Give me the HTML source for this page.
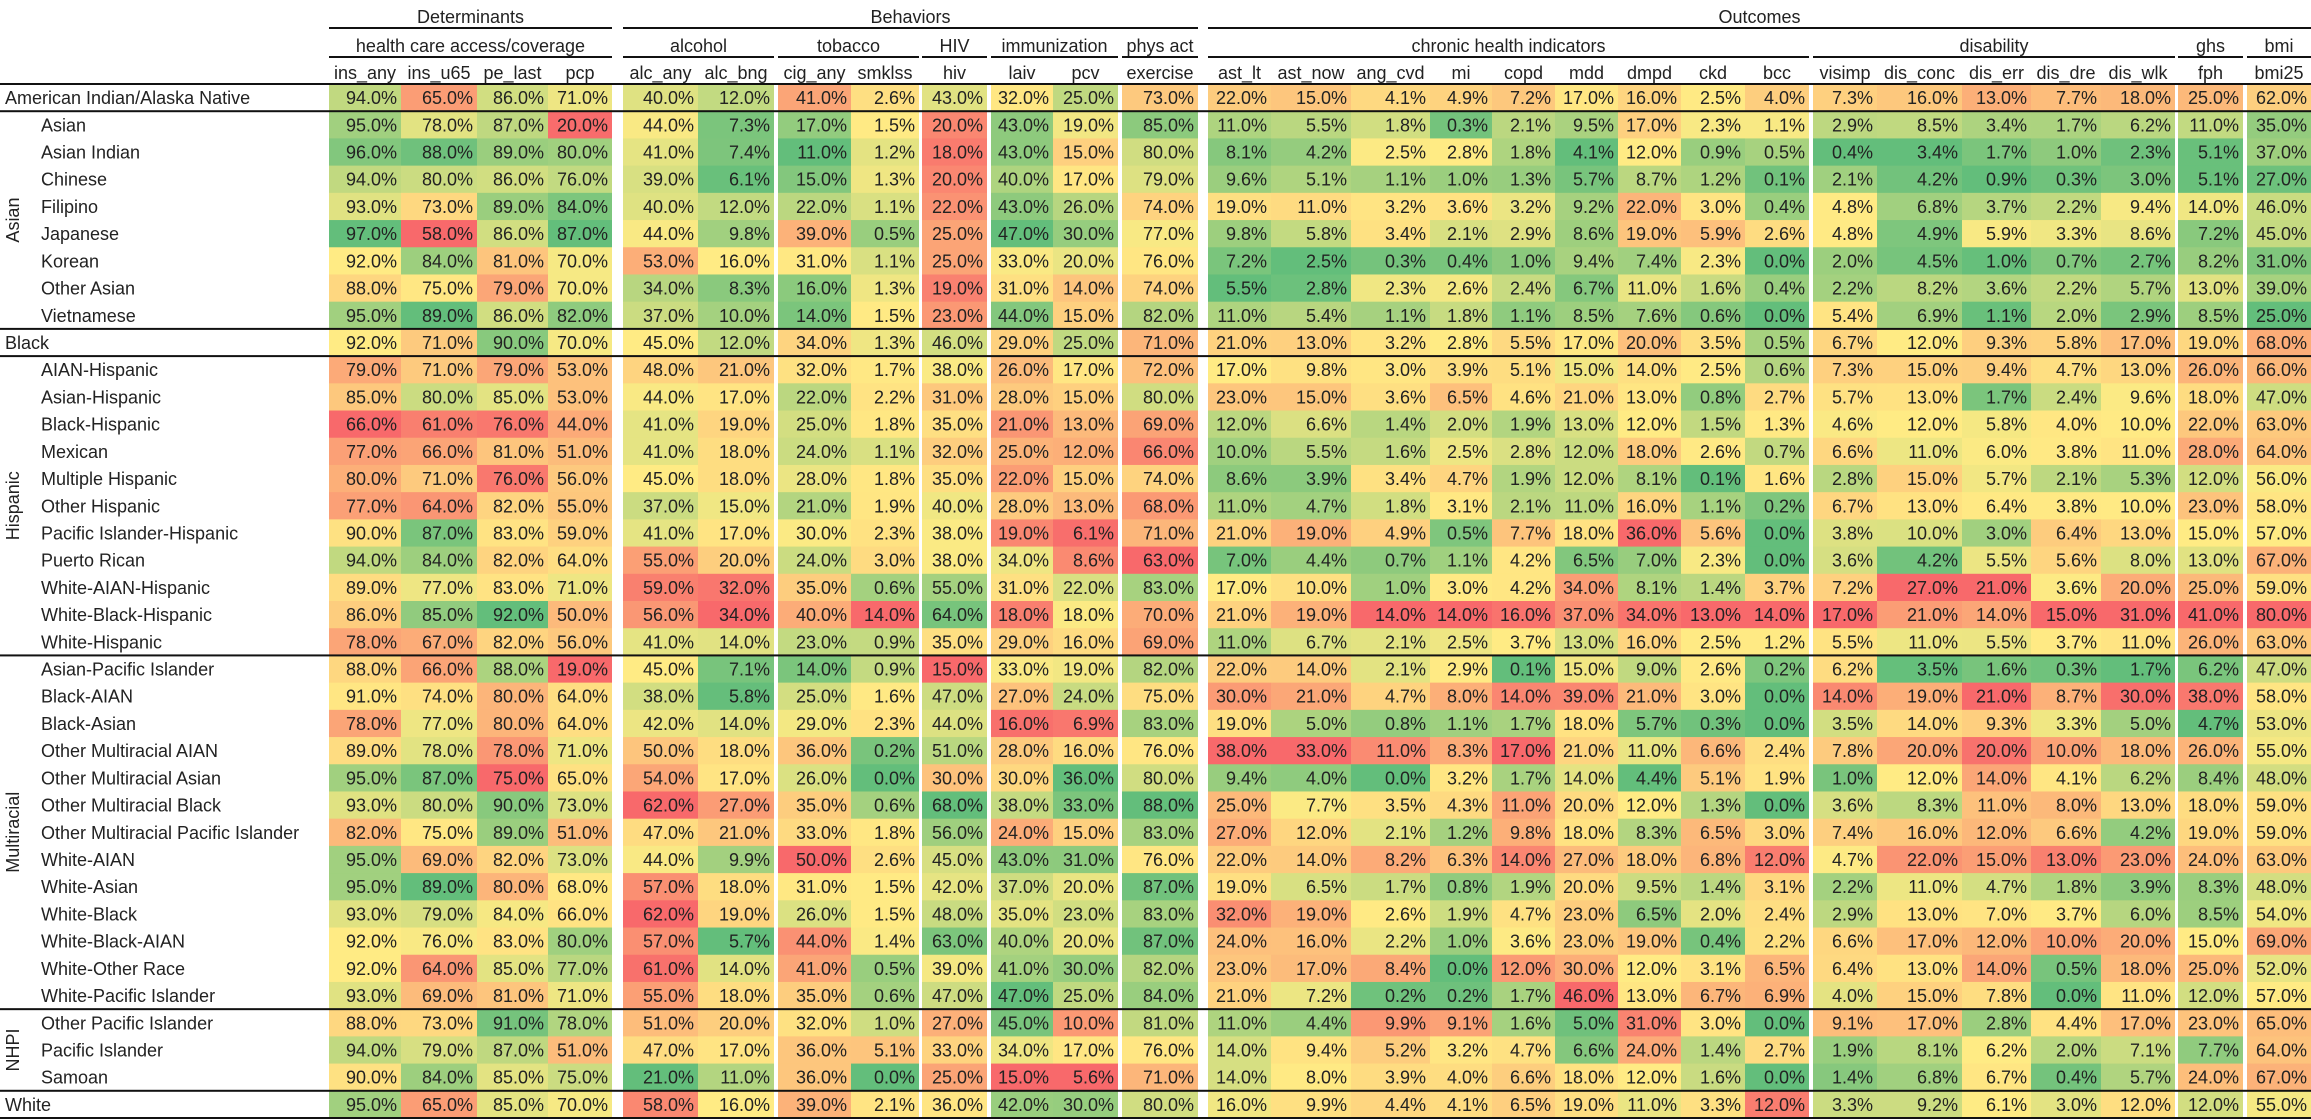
<!DOCTYPE html>
<html><head><meta charset="utf-8"><style>
html,body{margin:0;padding:0;background:#fff}
svg{display:block}
text{font-family:"Liberation Sans",sans-serif;font-size:18px;fill:#222}
</style></head><body>
<svg id="chart" width="2311" height="1120" viewBox="0 0 2311 1120" xmlns="http://www.w3.org/2000/svg"></svg>
<script>
const columns=["ins_any","ins_u65","pe_last","pcp","alc_any","alc_bng","cig_any","smklss","hiv","laiv","pcv","exercise","ast_lt","ast_now","ang_cvd","mi","copd","mdd","dmpd","ckd","bcc","visimp","dis_conc","dis_err","dis_dre","dis_wlk","fph","bmi25"];
const goodHigh=[1,1,1,1,0,0,0,0,1,1,1,1,0,0,0,0,0,0,0,0,0,0,0,0,0,0,0,0];
const rowNames=["American Indian/Alaska Native","Asian","Asian Indian","Chinese","Filipino","Japanese","Korean","Other Asian","Vietnamese","Black","AIAN-Hispanic","Asian-Hispanic","Black-Hispanic","Mexican","Multiple Hispanic","Other Hispanic","Pacific Islander-Hispanic","Puerto Rican","White-AIAN-Hispanic","White-Black-Hispanic","White-Hispanic","Asian-Pacific Islander","Black-AIAN","Black-Asian","Other Multiracial AIAN","Other Multiracial Asian","Other Multiracial Black","Other Multiracial Pacific Islander","White-AIAN","White-Asian","White-Black","White-Black-AIAN","White-Other Race","White-Pacific Islander","Other Pacific Islander","Pacific Islander","Samoan","White"];
const rowGroups=["","Asian","Asian","Asian","Asian","Asian","Asian","Asian","Asian","","Hispanic","Hispanic","Hispanic","Hispanic","Hispanic","Hispanic","Hispanic","Hispanic","Hispanic","Hispanic","Hispanic","Multiracial","Multiracial","Multiracial","Multiracial","Multiracial","Multiracial","Multiracial","Multiracial","Multiracial","Multiracial","Multiracial","Multiracial","Multiracial","NHPI","NHPI","NHPI",""];
const values=[
[94,65,86,71,40,12,41,2.6,43,32,25,73,22,15,4.1,4.9,7.2,17,16,2.5,4.0,7.3,16,13,7.7,18,25,62],
[95,78,87,20,44,7.3,17,1.5,20,43,19,85,11,5.5,1.8,0.3,2.1,9.5,17,2.3,1.1,2.9,8.5,3.4,1.7,6.2,11,35],
[96,88,89,80,41,7.4,11,1.2,18,43,15,80,8.1,4.2,2.5,2.8,1.8,4.1,12,0.9,0.5,0.4,3.4,1.7,1.0,2.3,5.1,37],
[94,80,86,76,39,6.1,15,1.3,20,40,17,79,9.6,5.1,1.1,1.0,1.3,5.7,8.7,1.2,0.1,2.1,4.2,0.9,0.3,3.0,5.1,27],
[93,73,89,84,40,12,22,1.1,22,43,26,74,19,11,3.2,3.6,3.2,9.2,22,3.0,0.4,4.8,6.8,3.7,2.2,9.4,14,46],
[97,58,86,87,44,9.8,39,0.5,25,47,30,77,9.8,5.8,3.4,2.1,2.9,8.6,19,5.9,2.6,4.8,4.9,5.9,3.3,8.6,7.2,45],
[92,84,81,70,53,16,31,1.1,25,33,20,76,7.2,2.5,0.3,0.4,1.0,9.4,7.4,2.3,0.0,2.0,4.5,1.0,0.7,2.7,8.2,31],
[88,75,79,70,34,8.3,16,1.3,19,31,14,74,5.5,2.8,2.3,2.6,2.4,6.7,11,1.6,0.4,2.2,8.2,3.6,2.2,5.7,13,39],
[95,89,86,82,37,10,14,1.5,23,44,15,82,11,5.4,1.1,1.8,1.1,8.5,7.6,0.6,0.0,5.4,6.9,1.1,2.0,2.9,8.5,25],
[92,71,90,70,45,12,34,1.3,46,29,25,71,21,13,3.2,2.8,5.5,17,20,3.5,0.5,6.7,12,9.3,5.8,17,19,68],
[79,71,79,53,48,21,32,1.7,38,26,17,72,17,9.8,3.0,3.9,5.1,15,14,2.5,0.6,7.3,15,9.4,4.7,13,26,66],
[85,80,85,53,44,17,22,2.2,31,28,15,80,23,15,3.6,6.5,4.6,21,13,0.8,2.7,5.7,13,1.7,2.4,9.6,18,47],
[66,61,76,44,41,19,25,1.8,35,21,13,69,12,6.6,1.4,2.0,1.9,13,12,1.5,1.3,4.6,12,5.8,4.0,10,22,63],
[77,66,81,51,41,18,24,1.1,32,25,12,66,10,5.5,1.6,2.5,2.8,12,18,2.6,0.7,6.6,11,6.0,3.8,11,28,64],
[80,71,76,56,45,18,28,1.8,35,22,15,74,8.6,3.9,3.4,4.7,1.9,12,8.1,0.1,1.6,2.8,15,5.7,2.1,5.3,12,56],
[77,64,82,55,37,15,21,1.9,40,28,13,68,11,4.7,1.8,3.1,2.1,11,16,1.1,0.2,6.7,13,6.4,3.8,10,23,58],
[90,87,83,59,41,17,30,2.3,38,19,6.1,71,21,19,4.9,0.5,7.7,18,36,5.6,0.0,3.8,10,3.0,6.4,13,15,57],
[94,84,82,64,55,20,24,3.0,38,34,8.6,63,7.0,4.4,0.7,1.1,4.2,6.5,7.0,2.3,0.0,3.6,4.2,5.5,5.6,8.0,13,67],
[89,77,83,71,59,32,35,0.6,55,31,22,83,17,10,1.0,3.0,4.2,34,8.1,1.4,3.7,7.2,27,21,3.6,20,25,59],
[86,85,92,50,56,34,40,14,64,18,18,70,21,19,14,14,16,37,34,13,14,17,21,14,15,31,41,80],
[78,67,82,56,41,14,23,0.9,35,29,16,69,11,6.7,2.1,2.5,3.7,13,16,2.5,1.2,5.5,11,5.5,3.7,11,26,63],
[88,66,88,19,45,7.1,14,0.9,15,33,19,82,22,14,2.1,2.9,0.1,15,9.0,2.6,0.2,6.2,3.5,1.6,0.3,1.7,6.2,47],
[91,74,80,64,38,5.8,25,1.6,47,27,24,75,30,21,4.7,8.0,14,39,21,3.0,0.0,14,19,21,8.7,30,38,58],
[78,77,80,64,42,14,29,2.3,44,16,6.9,83,19,5.0,0.8,1.1,1.7,18,5.7,0.3,0.0,3.5,14,9.3,3.3,5.0,4.7,53],
[89,78,78,71,50,18,36,0.2,51,28,16,76,38,33,11,8.3,17,21,11,6.6,2.4,7.8,20,20,10,18,26,55],
[95,87,75,65,54,17,26,0.0,30,30,36,80,9.4,4.0,0.0,3.2,1.7,14,4.4,5.1,1.9,1.0,12,14,4.1,6.2,8.4,48],
[93,80,90,73,62,27,35,0.6,68,38,33,88,25,7.7,3.5,4.3,11,20,12,1.3,0.0,3.6,8.3,11,8.0,13,18,59],
[82,75,89,51,47,21,33,1.8,56,24,15,83,27,12,2.1,1.2,9.8,18,8.3,6.5,3.0,7.4,16,12,6.6,4.2,19,59],
[95,69,82,73,44,9.9,50,2.6,45,43,31,76,22,14,8.2,6.3,14,27,18,6.8,12,4.7,22,15,13,23,24,63],
[95,89,80,68,57,18,31,1.5,42,37,20,87,19,6.5,1.7,0.8,1.9,20,9.5,1.4,3.1,2.2,11,4.7,1.8,3.9,8.3,48],
[93,79,84,66,62,19,26,1.5,48,35,23,83,32,19,2.6,1.9,4.7,23,6.5,2.0,2.4,2.9,13,7.0,3.7,6.0,8.5,54],
[92,76,83,80,57,5.7,44,1.4,63,40,20,87,24,16,2.2,1.0,3.6,23,19,0.4,2.2,6.6,17,12,10,20,15,69],
[92,64,85,77,61,14,41,0.5,39,41,30,82,23,17,8.4,0.0,12,30,12,3.1,6.5,6.4,13,14,0.5,18,25,52],
[93,69,81,71,55,18,35,0.6,47,47,25,84,21,7.2,0.2,0.2,1.7,46,13,6.7,6.9,4.0,15,7.8,0.0,11,12,57],
[88,73,91,78,51,20,32,1.0,27,45,10,81,11,4.4,9.9,9.1,1.6,5.0,31,3.0,0.0,9.1,17,2.8,4.4,17,23,65],
[94,79,87,51,47,17,36,5.1,33,34,17,76,14,9.4,5.2,3.2,4.7,6.6,24,1.4,2.7,1.9,8.1,6.2,2.0,7.1,7.7,64],
[90,84,85,75,21,11,36,0.0,25,15,5.6,71,14,8.0,3.9,4.0,6.6,18,12,1.6,0.0,1.4,6.8,6.7,0.4,5.7,24,67],
[95,65,85,70,58,16,39,2.1,36,42,30,80,16,9.9,4.4,4.1,6.5,19,11,3.3,12,3.3,9.2,6.1,3.0,12,12,55]
];
const level1=[["Determinants",0,3],["Behaviors",4,11],["Outcomes",12,27]];
const level2=[["health care access/coverage",0,3],["alcohol",4,5],["tobacco",6,7],["HIV",8,8],["immunization",9,10],["phys act",11,11],["chronic health indicators",12,20],["disability",21,25],["ghs",26,26],["bmi",27,27]];

// layout (pixel geometry, not data)
const colX0=[329,401,477,548,623,698,778,851,922,991,1053,1122,1208,1271,1351,1430,1492,1555,1618,1681,1745,1813,1877,1962,2031,2101,2178,2247];
const colX1=[401,477,548,612,698,774,851,919,987,1053,1118,1198,1271,1351,1430,1492,1555,1618,1681,1745,1809,1877,1962,2031,2101,2175,2243,2311];
const TOP=84, RH=(1118-84)/38;
const NS="http://www.w3.org/2000/svg";
const svg=document.getElementById('chart');
function mk(tag,attrs,parent){const e=document.createElementNS(NS,tag);for(const k in attrs)e.setAttribute(k,attrs[k]);(parent||svg).appendChild(e);return e;}
function rowY(i){return TOP+i*RH;}
const RED=[248,105,107],YEL=[255,235,132],GRN=[99,190,123];
function mix(a,b,t){return 'rgb('+a.map((v,i)=>Math.round(v+(b[i]-v)*t)).join(',')+')';}
function median(arr){const s=arr.slice().sort((a,b)=>a-b);const n=s.length;return n%2?s[(n-1)/2]:(s[n/2-1]+s[n/2])/2;}
function colorFor(c,v){
  const col=values.map(r=>r[c]);const mn=Math.min(...col),mx=Math.max(...col),md=median(col);
  const lo=goodHigh[c]?RED:GRN, hi=goodHigh[c]?GRN:RED;
  if(v<=md){const t=md>mn?(v-mn)/(md-mn):1;return mix(lo,YEL,t);}
  const t=mx>md?(v-md)/(mx-md):0;return mix(YEL,hi,t);
}
const cellsG=mk('g',{});


values.forEach((row,r)=>{
  row.forEach((v,c)=>{
    const y=rowY(r);
    const rect=mk('rect',{x:colX0[c],y:y,width:colX1[c]-colX0[c],height:RH+0.5,fill:colorFor(c,v)},cellsG);
    
    
    const t=mk('text',{x:colX1[c]-4,y:y+RH/2+6.5,'text-anchor':'end'},cellsG);
    
    
    t.textContent=v.toFixed(1)+'%';
  });
});
rowNames.forEach((n,r)=>{
  const t=mk('text',{x:rowGroups[r]?41:5,y:rowY(r)+RH/2+6.5});
  
  
  t.textContent=n;
});
const seenGroups=[...new Set(rowGroups.filter(g=>g))];
seenGroups.forEach(g=>{
  const idx=rowGroups.map((x,i)=>x===g?i:-1).filter(i=>i>=0);
  const cy=(rowY(idx[0])+rowY(idx[idx.length-1]+1))/2;
  const t=mk('text',{x:0,y:0,'text-anchor':'middle',transform:'translate(19,'+cy+') rotate(-90)'});
  
  
  t.textContent=g;
});
columns.forEach((c,i)=>{
  const t=mk('text',{x:(colX0[i]+colX1[i])/2,y:79,'text-anchor':'middle'});
  
  
  t.textContent=c;
});
level2.forEach(([n,a,b])=>{
  const t=mk('text',{x:(colX0[a]+colX1[b])/2,y:52,'text-anchor':'middle'});
  
  
  t.textContent=n;
  const l=mk('rect',{x:colX0[a],y:56,width:colX1[b]-colX0[a],height:2,fill:'#111'});
  
  
});
level1.forEach(([n,a,b])=>{
  const t=mk('text',{x:(colX0[a]+colX1[b])/2,y:23,'text-anchor':'middle'});
  
  
  t.textContent=n;
  const l=mk('rect',{x:colX0[a],y:27,width:colX1[b]-colX0[a],height:2,fill:'#111'});
  
  
});
const sepRows=[0];
rowGroups.forEach((g,i)=>{if(i>0&&(g!==rowGroups[i-1]||!g))sepRows.push(i);});
sepRows.push(rowNames.length);
[...new Set(sepRows)].forEach(i=>{
  const l=mk('rect',{x:0,y:rowY(i)-1,width:2311,height:2,fill:'#111'});
  
  
});
</script>
</body></html>
